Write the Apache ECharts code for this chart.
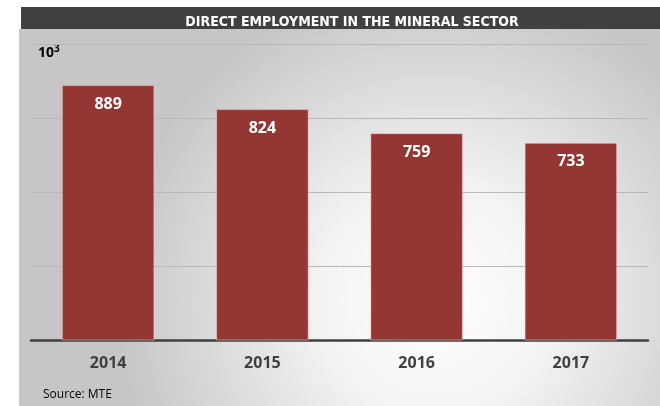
<!DOCTYPE html>
<html>
<head>
<meta charset="utf-8">
<script src="https://cdn.jsdelivr.net/npm/echarts@6/dist/echarts.min.js"></script>
<style>
  html, body { margin: 0; padding: 0; background: #fff; }
  #chart { width: 660px; height: 406px; }
</style>
</head>
<body>
<div id="chart"></div>
<script>
const years = ["2014", "2015", "2016", "2017"];
const employment = [889, 824, 759, 733];
const yTicks = [200, 400, 600, 800, 1000];

const myEcharts = echarts.init(document.getElementById("chart"));

const option = {
  animation: false,
  backgroundColor: "#fff",
  graphic: [
    {
      type: "rect",
      z: -10,
      shape: { x: 19, y: 29, width: 641, height: 377 },
      style: {
        fill: new echarts.graphic.RadialGradient(0.65, 0.72, 0.85, [
          { offset: 0, color: "#ffffff" },
          { offset: 0.35, color: "#f4f4f4" },
          { offset: 1, color: "#c6c6c6" },
        ]),
      },
    },
    {
      type: "rect",
      z: -9,
      shape: { x: 21, y: 7, width: 639, height: 22 },
      style: { fill: "#404040" },
    },
    {
      type: "text",
      left: 38,
      top: 44,
      style: {
        text: "{a|10}{b|3}",
        rich: {
          a: { font: "bold 14px 'Open Sans', sans-serif", fill: "#000", verticalAlign: "bottom" },
          b: { font: "bold 10px 'Open Sans', sans-serif", fill: "#000", verticalAlign: "top", padding: [0, 0, 6, 0] },
        },
      },
    },
    {
      type: "text",
      left: 43,
      top: 389,
      style: {
        text: "Source: MTE",
        font: "12px 'Open Sans', sans-serif",
        fill: "#000",
      },
    },
  ],
  title: {
    text: "DIRECT EMPLOYMENT IN THE MINERAL SECTOR",
    left: 347,
    top: 10,
    textAlign: "center",
    textStyle: {
      color: "#fff",
      fontSize: 14,
      fontWeight: "bold",
      fontFamily: "'Liberation Sans Narrow', 'DejaVu Sans Condensed', sans-serif",
    },
  },
  grid: {
    left: 31,
    right: 12,
    top: 44,
    bottom: 66,
    containLabel: false,
  },
  xAxis: {
    type: "category",
    data: years,
    axisLine: { lineStyle: { color: "#404040", width: 2.5 } },
    axisTick: { show: false },
    axisLabel: {
      color: "#404040",
      fontSize: 16,
      fontWeight: "bold",
      fontFamily: "'Open Sans', sans-serif",
      margin: 15,
    },
  },
  yAxis: {
    type: "value",
    min: yTicks[0],
    max: yTicks[yTicks.length - 1],
    interval: yTicks[1] - yTicks[0],
    axisLine: { show: false },
    axisTick: { show: false },
    axisLabel: { show: false },
    splitLine: { lineStyle: { color: "#b8b8b8", width: 1 } },
  },
  series: [
    {
      type: "bar",
      data: employment,
      barWidth: "60%",
      itemStyle: {
        color: "#943634",
        borderColor: "rgba(255,210,210,0.5)",
        borderWidth: 1,
      },
      label: {
        show: true,
        position: "insideTop",
        distance: 11,
        color: "#fff",
        fontSize: 16,
        fontWeight: "bold",
        fontFamily: "'Open Sans', sans-serif",
      },
    },
  ],
};
myEcharts.setOption(option);
</script>
</body>
</html>
